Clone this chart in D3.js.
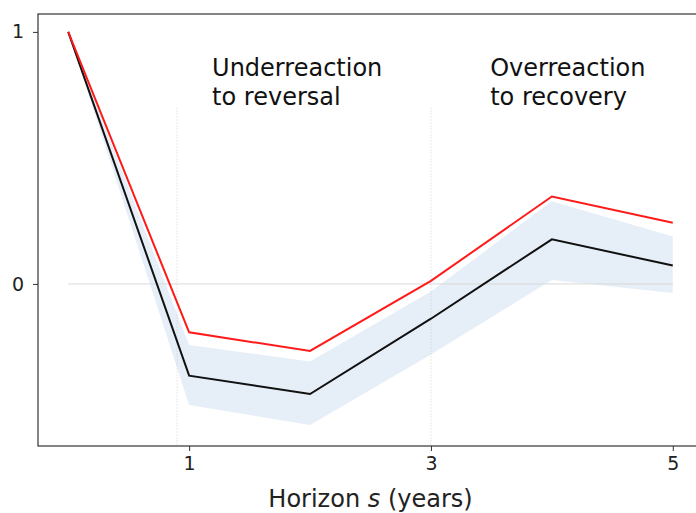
<!DOCTYPE html>
<html>
<head>
<meta charset="utf-8">
<script src="https://cdn.jsdelivr.net/npm/d3@7"></script>
<style>
  body { margin: 0; background: #fff; }
  svg { display: block; font-family: "DejaVu Sans", sans-serif; }
</style>
</head>
<body>
<script>
const width = 696;
const height = 513;
const margin = { top: 14, right: -7, bottom: 67, left: 38 };

// horizon in years
const horizon = [0, 1, 2, 3, 4, 5];
// black line (estimate) and red line
const estimate = [1, -0.364, -0.437, -0.138, 0.177, 0.073];
const redLine = [1, -0.192, -0.266, 0.012, 0.347, 0.243];
// shaded band
const bandUpper = [1, -0.242, -0.308, -0.03, 0.328, 0.188];
const bandLower = [1, -0.48, -0.56, -0.28, 0.016, -0.036];

const xTicks = [1, 3, 5];
const yTicks = [0, 1];
const dividers = [0.9, 3];
const notes = [
  { x: 1.19, lines: ["Underreaction", "to reversal"] },
  { x: 3.49, lines: ["Overreaction", "to recovery"] }
];

const xScale = d3
  .scaleLinear()
  .domain([-0.25, 5.25])
  .range([margin.left, width - margin.right]);

const yScale = d3
  .scaleLinear()
  .domain([-0.643, 1.071])
  .range([height - margin.bottom, margin.top]);

const svg = d3
  .select("body")
  .append("svg")
  .attr("width", width)
  .attr("height", height);

const rows = horizon.map((h, i) => ({
  h,
  est: estimate[i],
  red: redLine[i],
  hi: bandUpper[i],
  lo: bandLower[i]
}));

// band
svg
  .append("path")
  .datum(rows)
  .attr("fill", "#e6eef7")
  .attr(
    "d",
    d3
      .area()
      .x((d) => xScale(d.h))
      .y0((d) => yScale(d.lo))
      .y1((d) => yScale(d.hi))
  );

// zero line
svg
  .append("line")
  .attr("x1", xScale(0))
  .attr("x2", xScale(5))
  .attr("y1", yScale(0))
  .attr("y2", yScale(0))
  .attr("stroke", "#d9d9d9")
  .attr("stroke-width", 1);

// dotted dividers
svg
  .selectAll(".divider")
  .data(dividers)
  .enter()
  .append("line")
  .attr("class", "divider")
  .attr("x1", (d) => xScale(d))
  .attr("x2", (d) => xScale(d))
  .attr("y1", yScale(0.7))
  .attr("y2", yScale(-0.643))
  .attr("stroke", "#c8c8c8")
  .attr("stroke-width", 0.8)
  .attr("stroke-dasharray", "1,2");

const line = (key) =>
  d3
    .line()
    .x((d) => xScale(d.h))
    .y((d) => yScale(d[key]));

svg
  .append("path")
  .datum(rows)
  .attr("fill", "none")
  .attr("stroke", "#111")
  .attr("stroke-width", 2)
  .attr("d", line("est"));

svg
  .append("path")
  .datum(rows)
  .attr("fill", "none")
  .attr("stroke", "#ff1a1a")
  .attr("stroke-width", 2)
  .attr("d", line("red"));

// annotations
notes.forEach((n) => {
  const t = svg
    .append("text")
    .attr("x", xScale(n.x))
    .attr("y", yScale(0.824))
    .style("font-size", "24px")
    .style("fill", "#111");
  n.lines.forEach((s, i) => {
    t.append("tspan")
      .attr("x", xScale(n.x))
      .attr("dy", i === 0 ? 0 : 29)
      .text(s);
  });
});

// axes
const xAxis = svg
  .append("g")
  .attr("transform", `translate(0, ${height - margin.bottom})`)
  .call(
    d3.axisBottom(xScale).tickValues(xTicks).tickFormat(d3.format("d")).tickSize(5).tickPadding(6)
  );

const yAxis = svg
  .append("g")
  .attr("transform", `translate(${margin.left}, 0)`)
  .call(
    d3.axisLeft(yScale).tickValues(yTicks).tickFormat(d3.format("d")).tickSize(5).tickPadding(9)
  );

[xAxis, yAxis].forEach((a) => {
  a.select(".domain").remove();
  a.selectAll("line").attr("stroke", "#333");
  a.selectAll("text")
    .style("font-family", "DejaVu Sans, sans-serif")
    .style("font-size", "19px")
    .attr("fill", "#222");
});

// frame
svg
  .append("rect")
  .attr("x", margin.left)
  .attr("y", margin.top)
  .attr("width", width - margin.right - margin.left)
  .attr("height", height - margin.bottom - margin.top)
  .attr("fill", "none")
  .attr("stroke", "#333")
  .attr("stroke-width", 1.2);

// x label
const xl = svg
  .append("text")
  .attr("x", (margin.left + width - margin.right) / 2)
  .attr("y", height - 6)
  .attr("text-anchor", "middle")
  .style("font-size", "24px")
  .style("fill", "#222");
xl.append("tspan").text("Horizon ");
xl.append("tspan").style("font-style", "italic").text("s");
xl.append("tspan").text(" (years)");
</script>
</body>
</html>
